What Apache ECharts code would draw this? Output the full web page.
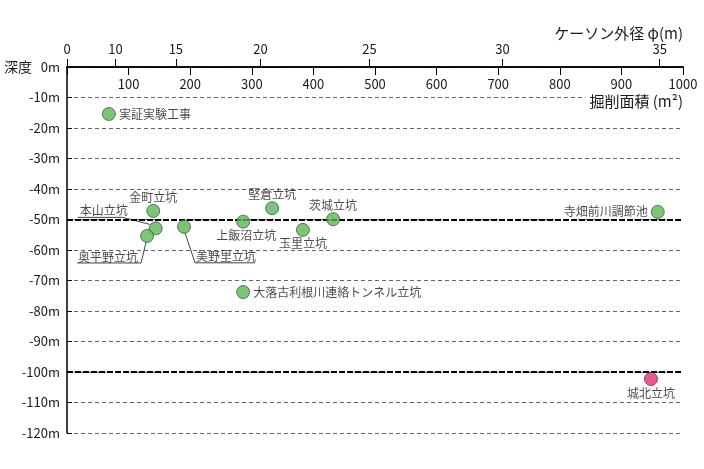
<!DOCTYPE html>
<html>
<head>
<meta charset="utf-8">
<script src="https://cdn.jsdelivr.net/npm/echarts@6/dist/echarts.min.js"></script>
<style>html,body{margin:0;padding:0;background:#fff}#c{width:704px;height:469px}</style>
</head>
<body>
<div id="c"></div>
<script>
// ---- data ----
const names = ['実証実験工事','金町立坑','本山立坑','奥平野立坑','美野里立坑','上飯沼立坑','堅倉立坑','玉里立坑','茨城立坑','大落古利根川連絡トンネル立坑','寺畑前川調節池','城北立坑'];
const areas = [68, 140, 144, 130, 190, 286, 333, 383, 432, 286, 959, 948];
const depths = [-15.4, -47.2, -52.9, -55.4, -52.4, -50.7, -46.3, -53.4, -49.9, -73.8, -47.5, -102.3];
const highlightNames = ['城北立坑'];
const diameterTicks = [0, 10, 15, 20, 25, 30, 35];
const depthEmphasis = [-50, -100];

// ---- layout / style (not data) ----
const FONT = '"Noto Sans CJK JP","Noto Sans",sans-serif';
const labelCfg = {
  '実証実験工事': {position:'right', distance:3},
  '金町立坑': {position:'top', distance:1},
  '本山立坑': {position:'inside', offset:[-52,-18]},
  '奥平野立坑': {position:'inside', offset:[-39,21]},
  '美野里立坑': {position:'inside', offset:[42,30]},
  '上飯沼立坑': {position:'bottom', distance:1, offset:[3,0]},
  '堅倉立坑': {position:'top', distance:1},
  '玉里立坑': {position:'bottom', distance:1},
  '茨城立坑': {position:'top', distance:1},
  '大落古利根川連絡トンネル立坑': {position:'right', distance:3},
  '寺畑前川調節池': {position:'left', distance:3},
  '城北立坑': {position:'bottom', distance:1}
};
const leaderCfg = {
  '本山立坑': [[-78,-11],[-33,-11],[-6,-4]],
  '奥平野立坑': [[-70,27],[-6,27],[-1,6]],
  '美野里立坑': [[1,6],[11,36],[71,36]]
};

const scatterData = names.map((n, i) => {
  const hl = highlightNames.includes(n);
  return {
    name: n,
    value: [areas[i], depths[i]],
    itemStyle: { color: hl ? '#e5307a' : '#5db552', borderColor: hl ? '#8f1d4b' : '#3a5e47', borderWidth: 1 },
    label: Object.assign({ show: true, formatter: n, color: '#1a1a1a', fontSize: 12, fontFamily: FONT }, labelCfg[n])
  };
});
const leaderData = names.map((n, i) => [areas[i], depths[i], i]).filter(d => leaderCfg[names[d[2]]]);

const areaFromDiameter = d => Math.PI * d * d / 4;

const chart = echarts.init(document.getElementById('c'), null, {renderer: 'canvas'});
chart.setOption({
  animation: false,
  backgroundColor: '#fff',
  grid: { left: 67, right: 21, top: 67, bottom: 36 },
  xAxis: [
    {
      type: 'value', position: 'top', min: 0, max: 1000, interval: 100,
      axisLine: { show: true, lineStyle: { color: '#000', width: 1.5 } },
      axisTick: { show: true, inside: true, length: 8, lineStyle: { color: '#000', width: 1 } },
      axisLabel: { inside: true, margin: 11, color: '#1a1a1a', fontSize: 13, fontFamily: FONT,
        formatter: v => v === 0 ? '' : String(v) },
      splitLine: { show: false }
    },
    {
      type: 'value', position: 'top', min: 0, max: 1000,
      axisLine: { show: true, lineStyle: { color: '#000', width: 1.5 } },
      axisTick: { show: true, inside: false, length: 8, customValues: diameterTicks.map(areaFromDiameter), lineStyle: { color: '#000', width: 1 } },
      axisLabel: { margin: 11, color: '#1a1a1a', fontSize: 13, fontFamily: FONT,
        customValues: diameterTicks.map(areaFromDiameter),
        formatter: v => String(Math.round(Math.sqrt(v * 4 / Math.PI))) },
      splitLine: { show: false }
    }
  ],
  yAxis: {
    type: 'value', min: -120, max: 0, interval: 10,
    axisLine: { show: true, lineStyle: { color: '#000', width: 1.5 } },
    axisTick: { show: true, inside: true, length: 5, lineStyle: { color: '#000' } },
    axisLabel: { margin: 7, color: '#1a1a1a', fontSize: 13, fontFamily: FONT,
      formatter: v => v === 0 ? '{a|深度}  0m' : v + 'm',
      rich: { a: { fontSize: 14, fontFamily: FONT, color: '#1a1a1a', padding: [0, 3, 0, 0] } } },
    splitLine: { show: true, lineStyle: { color: '#666', width: 1, type: [4, 3] } }
  },
  graphic: [
    { type: 'text', right: 21, top: 26, z: 10,
      style: { text: 'ケーソン外径 φ(m)', font: '15px ' + FONT, fill: '#1a1a1a' } },
    { type: 'text', right: 21, top: 94, z: 10,
      style: { text: '掘削面積 (m²)', font: '15px ' + FONT, fill: '#1a1a1a', backgroundColor: '#fff', padding: [0, 0, 0, 4] } }
  ],
  series: [
    {
      type: 'custom', xAxisIndex: 0, z: 3, silent: true,
      data: leaderData,
      renderItem: (params, api) => {
        const p = api.coord([api.value(0), api.value(1)]);
        const rel = leaderCfg[names[api.value(2)]];
        return { type: 'polyline', shape: { points: rel.map(r => [p[0] + r[0], p[1] + r[1]]) },
          style: { stroke: '#444', lineWidth: 1, fill: null } };
      }
    },
    {
      type: 'scatter', xAxisIndex: 0, symbolSize: 13, z: 5,
      data: scatterData,
      markLine: {
        silent: true, symbol: 'none', label: { show: false },
        lineStyle: { color: '#000', width: 2, type: [6, 2] },
        data: depthEmphasis.map(v => ({ yAxis: v }))
      }
    }
  ]
});
</script>
</body>
</html>
